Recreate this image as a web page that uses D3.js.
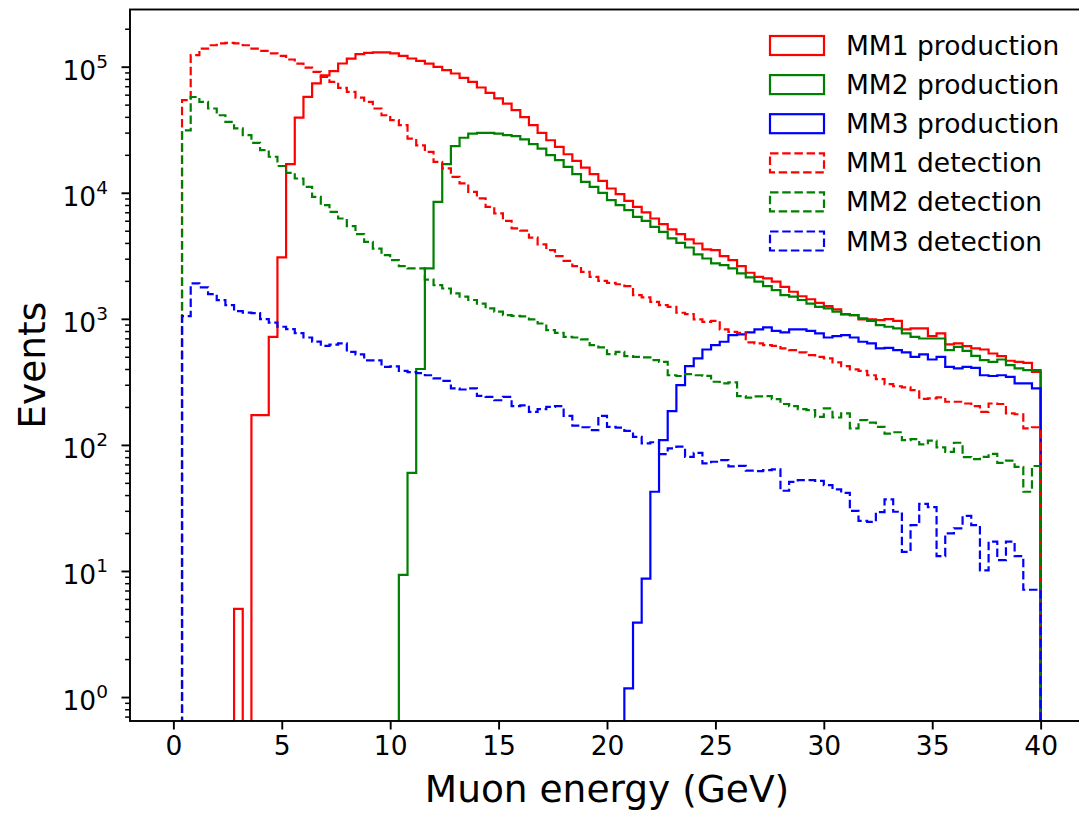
<!DOCTYPE html>
<html>
<head>
<meta charset="utf-8">
<script src="https://cdn.jsdelivr.net/npm/d3@7"></script>
<style>
  body { margin: 0; background: #fff; }
  svg { font-family: "DejaVu Sans", sans-serif; }
</style>
</head>
<body>
<div id="chart"></div>
<script>
// 100 bins of 0.4 GeV between 0 and 40 GeV
var binWidth = 0.4;

var prod1 = [0,0,0,0,0,0,0,5,0,172, 172,720,3070,16900,39500,57600,73600,85200,92100,106000,
  116000,125600,128800,129700,129700,127400,121900,116100,111200,105900,
  99500,93800,88300,81500,75700,68400,61900,56000,51000,45200,
  39800,34400,29900,26100,23100,20200,17900,15850,14030,12420,
  10810,9750,8630,7730,6980,6250,5640,5120,4700,4270,
  3960,3550,3510,3140,2920,2620,2320,2150,2090,1970,
  1790,1640,1510,1430,1340,1260,1190,1090,1070,990,
  990,977,993,964,824,839,839,729,766,627,
  638,607,582,571,531,506,465,456,448,380];

var prod2 = [0,0,0,0,0,0,0,0,0,0, 0,0,0,0,0,0,0,0,0,0,
  0,0,0,0,0,0,9.3,60,400,2510,
  8470,16900,23400,27300,29500,29900,29900,29500,28600,28100,
  26500,24300,22400,19900,18150,16030,14030,12220,11140,9980,
  8730,7980,7280,6440,5980,5370,4900,4350,4010,3680,
  3240,3010,2750,2670,2510,2290,2130,1970,1820,1690,
  1540,1500,1410,1320,1245,1210,1140,1085,1070,1007,
  964,891,865,839,766,719,698,698,698,565,
  600,557,509,470,456,476,430,405,392,392];

var prod3 = [0,0,0,0,0,0,0,0,0,0, 0,0,0,0,0,0,0,0,0,0,
  0,0,0,0,0,0,0,0,0,0, 0,0,0,0,0,0,0,0,0,0,
  0,0,0,0,0,0,0,0,0,0, 0,0,1.17,3.9,8.7,42.5,109,185,298,422,
  485,571,618,658,743,752,780,824,855,804,
  780,824,824,804,766,711,729,743,711,658,
  638,582,589,565,541,500,522,476,500,416,
  405,416,408,357,352,357,347,308,308,281];

var det1 = [0,54200,123300,139300,147900,152800,154500,152800,147900,139300,
  133400,127400,121900,114000,105900,98400,91000,83000,75700,68000,
  63100,56900,52600,46600,41200,37700,34400,26900,23800,21100,
  17600,15600,13370,11860,10160,9020,7730,6850,5980,5210,
  5010,4400,3890,3510,3140,2880,2620,2360,2150,2000,
  1930,1880,1820,1540,1480,1365,1285,1245,1117,1089,
  989,946,964,824,789,774,650,638,618,611,
  582,565,541,515,500,485,451,422,397,387,
  357,333,303,292,286,272,232,234,238,220,
  220,213,203,183,213,211,178,175,135,138];

var det2 = [0,31300,57500,52600,46600,41200,36500,32400,28600,24900,
  21800,19300,16300,14400,12970,11140,9270,7980,7060,6250,
  5430,4700,4080,3610,3200,2920,2620,2510,2510,2050,
  1850,1740,1590,1500,1410,1320,1210,1140,1070,1057,
  1045,989,918,813,774,719,711,687,618,593,
  525,547,506,500,494,470,456,357,352,364,
  357,353,317,308,313,244,237,243,244,231,
  211,203,192,189,167,195,165,178,135,157,
  150,139,123,126,109,111,101,108,95.5,88,
  104,80,77,80.5,85,72,75,67,42.5,68];

var det3 = [0,1050,1910,1775,1570,1405,1285,1150,1120,1110,
  995,932,865,828,770,711,660,611,624,638,
  547,522,468,468,416,419,387,378,371,357,
  337,322,281,275,281,245,240,226,240,203,
  206,183,192,200,203,170,142,138,131,170,
  139,137,129,116,103,105,84.5,94,97,80.5,
  86.5,71.3,73.5,75.7,67.6,68.2,62.4,61.9,63.1,64,
  43.3,50.9,52.6,52.6,51.9,48,44.4,41.7,30,25,
  24.5,29.3,37,29.5,14.2,23.1,34.1,32.1,13.1,19.9,
  21.8,27.4,23.1,10.1,17.1,12.2,17.1,13.1,7.1,7.1];

var seriesNames = ["MM1 production", "MM2 production", "MM3 production",
                   "MM1 detection", "MM2 detection", "MM3 detection"];
var seriesValues = [prod1, prod2, prod3, det1, det2, det3];
var seriesColors = ["#ff0000", "#008000", "#0000ff", "#ff0000", "#008000", "#0000ff"];
var seriesDashed = [false, false, false, true, true, true];

var xTicks = [0, 5, 10, 15, 20, 25, 30, 35, 40];
var yTicks = [1, 10, 100, 1000, 10000, 100000];
var yTickExp = ["0", "1", "2", "3", "4", "5"];

// layout
var W = 1079, H = 815;
var margin = {top: 9.5, left: 130},
    width = 954,
    height = 711.5;

var svg = d3.select("#chart").append("svg")
    .attr("width", W)
    .attr("height", H);

var g = svg.append("g")
    .attr("transform", "translate(" + margin.left + "," + margin.top + ")");

var x = d3.scaleLinear().domain([-2, 42]).range([0, width]);
var y = d3.scaleLog().domain([Math.pow(10, -0.19), Math.pow(10, 5.4536)]).range([height, 0]);

g.append("clipPath").attr("id", "plotclip")
  .append("rect").attr("width", width).attr("height", height);

// step outline like a histtype='step' histogram
function stepPoints(vals) {
  var pts = [[0, 0]];
  vals.forEach(function(v, i) {
    pts.push([i * binWidth, v]);
    pts.push([(i + 1) * binWidth, v]);
  });
  pts.push([vals.length * binWidth, 0]);
  return pts;
}

var line = d3.line()
    .x(function(d) { return x(d[0]); })
    .y(function(d) { return d[1] > 0 ? y(d[1]) : height + 20; });

var plot = g.append("g").attr("clip-path", "url(#plotclip)");
seriesValues.forEach(function(vals, k) {
  plot.append("path")
    .datum(stepPoints(vals))
    .attr("fill", "none")
    .attr("stroke", seriesColors[k])
    .attr("stroke-width", 2.2)
    .attr("stroke-dasharray", seriesDashed[k] ? "8.5,3.7" : null)
    .attr("d", line);
});

// x axis
var xAxis = g.append("g")
    .attr("transform", "translate(0," + height + ")")
    .call(d3.axisBottom(x).tickValues(xTicks).tickSize(8.5).tickPadding(7).tickFormat(d3.format("d")));
xAxis.select(".domain").remove();
xAxis.selectAll(".tick line").attr("stroke", "#000").attr("stroke-width", 1.9);
xAxis.selectAll(".tick text").attr("fill", "#000").style("font-size", "26.5px")
    .style("font-family", "DejaVu Sans");

// y axis: major + minor log ticks
var minorTicks = [];
for (var e = -1; e <= 5; e++) {
  for (var m = 2; m <= 9; m++) {
    var v = m * Math.pow(10, e);
    if (v >= y.domain()[0] && v <= y.domain()[1]) minorTicks.push(v);
  }
}
var yMinor = g.append("g")
    .call(d3.axisLeft(y).tickValues(minorTicks).tickSize(4.9).tickFormat(""));
yMinor.select(".domain").remove();
yMinor.selectAll(".tick line").attr("stroke", "#000").attr("stroke-width", 1.5);

var yAxis = g.append("g")
    .call(d3.axisLeft(y).tickValues(yTicks).tickSize(8.5).tickFormat(""));
yAxis.select(".domain").remove();
yAxis.selectAll(".tick line").attr("stroke", "#000").attr("stroke-width", 1.9);

var yLab = g.append("g").selectAll("text")
  .data(yTicks)
  .enter().append("text")
    .attr("x", -22)
    .attr("y", function(d) { return y(d) + 13; })
    .attr("text-anchor", "end")
    .style("font-size", "26.5px");
yLab.append("tspan").text("10");
yLab.append("tspan")
    .attr("dy", -12)
    .style("font-size", "18.5px")
    .text(function(d, i) { return yTickExp[i]; });

// spines (right one falls outside the picture)
g.append("rect")
    .attr("width", width)
    .attr("height", height)
    .attr("fill", "none")
    .attr("stroke", "#000")
    .attr("stroke-width", 1.9);

// axis titles
svg.append("text")
    .attr("x", margin.left + width / 2)
    .attr("y", 802)
    .attr("text-anchor", "middle")
    .style("font-size", "37.5px")
    .text("Muon energy (GeV)");

svg.append("text")
    .attr("transform", "translate(45," + (margin.top + height / 2) + ") rotate(-90)")
    .attr("text-anchor", "middle")
    .style("font-size", "37.5px")
    .text("Events");

// legend
var legend = svg.append("g").attr("transform", "translate(770,36)");
var rows = legend.selectAll("g")
  .data(seriesNames)
  .enter().append("g")
    .attr("transform", function(d, i) { return "translate(0," + (i * 39.1) + ")"; });
rows.append("rect")
    .attr("width", 54)
    .attr("height", 19)
    .attr("fill", "none")
    .attr("stroke", function(d, i) { return seriesColors[i]; })
    .attr("stroke-width", 2.2)
    .attr("stroke-dasharray", function(d, i) { return seriesDashed[i] ? "8.5,3.7" : null; });
rows.append("text")
    .attr("x", 76)
    .attr("y", 19)
    .style("font-size", "26.5px")
    .text(function(d) { return d; });
</script>
</body>
</html>
